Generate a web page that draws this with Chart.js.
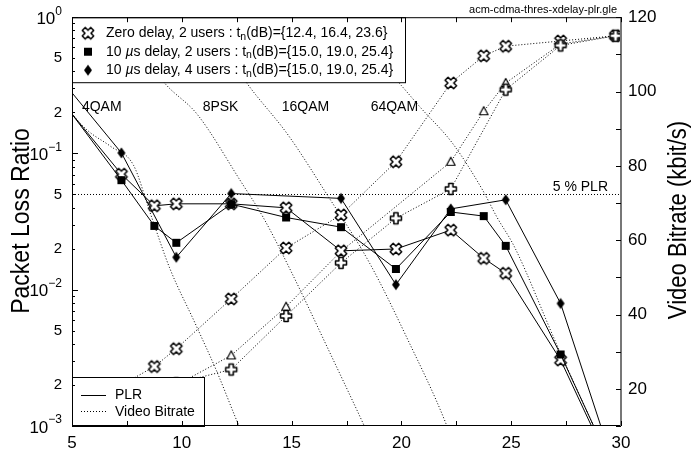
<!DOCTYPE html>
<html>
<head>
<meta charset="utf-8">
<script src="https://cdn.jsdelivr.net/npm/chart.js@4.4.0/dist/chart.umd.min.js"></script>
<style>
  html, body { margin: 0; padding: 0; background: #fff; }
</style>
</head>
<body>
<canvas id="chart" width="700" height="450"></canvas>
<script>
const FONT = '"Liberation Sans", Arial, Helvetica, sans-serif';

// PLR curves (left axis, log)
const snrZero = [4.75, 7.25, 8.75, 9.75, 12.25, 14.75, 17.25, 19.75, 22.25, 23.75, 24.75, 27.25, 29.75];
const plrZero2 = [0.218, 0.0705, 0.0413, 0.0427, 0.0427, 0.0399, 0.0193, 0.0199, 0.0274, 0.0170, 0.0132, 0.00305, 0.00042];
const plr10us2 = [0.220, 0.0637, 0.0294, 0.0221, 0.0425, 0.0339, 0.0288, 0.0142, 0.0372, 0.0347, 0.0210, 0.00335, 0.00045];
const snr4u = [4.75, 7.25, 9.75, 12.25, 17.25, 19.75, 22.25, 24.75, 27.25, 29.75];
const plr10us4 = [0.312, 0.101, 0.0173, 0.0508, 0.0468, 0.0109, 0.0392, 0.0457, 0.00793, 0.00047];

// video bitrate (right axis, kbit/s)
const snrRateZero = [7.25, 8.75, 9.75, 12.25, 14.75, 17.25, 19.75, 22.25, 23.75, 24.75, 27.25, 29.75];
const rateZero = [21, 26, 30.8, 44.2, 57.9, 66.8, 81.1, 102.3, 109.6, 112.2, 113.6, 115];
const snrRateTri = [9.75, 12.25, 14.75, 17.25, 22.25, 23.75, 24.75, 27.25, 29.75];
const rateTri = [21, 29.0, 42.1, 57.0, 81.1, 94.7, 102.3, 112.8, 115];
const snrRatePlus = [9.75, 12.25, 14.75, 17.25, 19.75, 22.25, 24.75, 27.25, 29.75];
const ratePlus = [21.5, 25.2, 39.6, 53.9, 65.9, 73.8, 100.5, 112.4, 115];

// modulation threshold curves
const qam4Snr = [4.45, 5.7, 6.75, 7.8, 8.55, 9.45, 10.6, 11.6, 12.55, 13.1];
const qam4Plr = [0.246, 0.148, 0.113, 0.082, 0.037, 0.0144, 0.0057, 0.0025, 0.00105, 0.00066];
const psk8Snr = [8.1, 9.25, 10.7, 12.65, 13.7, 14.95, 16.75, 18.25, 18.8];
const psk8Plr = [0.573, 0.324, 0.194, 0.0637, 0.0341, 0.0139, 0.00343, 0.00105, 0.00067];
const qam16Snr = [11.95, 13.0, 14.85, 16.6, 18.55, 20.3, 22.0, 22.45];
const qam16Plr = [0.573, 0.322, 0.136, 0.0503, 0.0157, 0.00427, 0.00107, 0.00067];
const qam64Snr = [19.0, 20.0, 20.85, 22.35, 23.7, 24.35, 25.15, 27.05, 28.75, 29.3];
const qam64Plr = [0.484, 0.315, 0.219, 0.1175, 0.0538, 0.0341, 0.0206, 0.00404, 0.001, 0.00064];

const plrLimit = 0.05;
const modLabels = ['4QAM', '8PSK', '16QAM', '64QAM'];
const modLabelSnr = [5.45, 10.95, 14.55, 18.6];
const leftTicks = [1, 0.5, 0.2, 0.1, 0.05, 0.02, 0.01, 0.005, 0.002, 0.001];

function pts(xs, ys) { return xs.map((v, i) => ({ x: v, y: ys[i] })); }

function makeMarker(kind) {
  const c = document.createElement('canvas');
  c.width = 16; c.height = 16;
  const g = c.getContext('2d');
  g.translate(8, 8);
  g.strokeStyle = '#000';
  g.lineWidth = 1.5;
  g.lineJoin = 'round';
  if (kind === 'cross' || kind === 'plus') {
    if (kind === 'cross') g.rotate(Math.PI / 4);
    const L = kind === 'cross' ? 6.0 : 5.5, w = 2.1;
    g.beginPath();
    g.moveTo(-w, -L); g.lineTo(w, -L); g.lineTo(w, -w); g.lineTo(L, -w);
    g.lineTo(L, w); g.lineTo(w, w); g.lineTo(w, L); g.lineTo(-w, L);
    g.lineTo(-w, w); g.lineTo(-L, w); g.lineTo(-L, -w); g.lineTo(-w, -w);
    g.closePath();
    g.fillStyle = '#fff'; g.fill(); g.stroke();
  } else if (kind === 'tri') {
    g.lineWidth = 1.2;
    g.beginPath();
    g.moveTo(0, -4.5); g.lineTo(4.3, 3.5); g.lineTo(-4.3, 3.5); g.closePath();
    g.fillStyle = '#fff'; g.fill(); g.stroke();
  } else if (kind === 'square') {
    g.fillStyle = '#000'; g.fillRect(-4, -4, 8, 8);
  } else if (kind === 'diamond') {
    g.beginPath();
    g.moveTo(0, -5.5); g.lineTo(4, 0); g.lineTo(0, 5.5); g.lineTo(-4, 0); g.closePath();
    g.fillStyle = '#000'; g.fill();
  }
  return c;
}
const mk = {
  cross: makeMarker('cross'), plus: makeMarker('plus'), tri: makeMarker('tri'),
  square: makeMarker('square'), diamond: makeMarker('diamond')
};

const visible = c => (c.raw && c.raw.x >= 5 && c.raw.y >= 0.001) ? 6 : 0;

function solid(data, marker) {
  return { data, yAxisID: 'y', showLine: true, borderColor: '#000', borderWidth: 1,
    pointStyle: marker, pointRadius: visible, pointHoverRadius: visible, tension: 0 };
}
function dotted(data, marker, axis) {
  return { data, yAxisID: axis, showLine: true, borderColor: '#000', borderWidth: 1,
    borderDash: [1, 2], pointStyle: marker || false, pointRadius: marker ? visible : 0,
    tension: 0 };
}
function curve(data) {
  const d = dotted(data, null, 'y');
  d.cubicInterpolationMode = 'monotone';
  return d;
}

function drawRich(ctx, parts, x, y, size) {
  let cx = x;
  parts.forEach(p => {
    const s = p.sub ? size * 0.75 : size;
    ctx.font = (p.it ? 'italic ' : '') + s + 'px ' + FONT;
    ctx.fillText(p.t, cx, y + (p.sub ? 3.5 : 0));
    cx += ctx.measureText(p.t).width;
  });
}

const decor = {
  id: 'decor',
  afterDatasetsDraw(chart) {
    const { ctx, chartArea: a, scales } = chart;
    const xs = scales.x, ys = scales.y, y2 = scales.y2;
    ctx.save();
    ctx.fillStyle = '#000';
    ctx.strokeStyle = '#000';

    // modulation labels and 5% label
    ctx.font = '14px ' + FONT;
    ctx.textBaseline = 'middle';
    ctx.textAlign = 'left';
    modLabels.forEach((t, i) => ctx.fillText(t, xs.getPixelForValue(modLabelSnr[i]), 107));
    ctx.textAlign = 'right';
    ctx.fillText('5 % PLR', a.right - 13, ys.getPixelForValue(plrLimit) - 7);

    // file name
    ctx.font = '11px ' + FONT;
    ctx.fillText('acm-cdma-thres-xdelay-plr.gle', a.right - 4, 10);

    // upper legend
    ctx.fillStyle = '#fff';
    ctx.fillRect(a.left, a.top, 333, 65);
    ctx.lineWidth = 1;
    ctx.strokeRect(a.left + 0.5, a.top + 0.5, 333, 65);
    const rows = [
      [mk.cross, [{ t: 'Zero delay, 2 users : t' }, { t: 'n', sub: true }, { t: '(dB)={12.4, 16.4, 23.6}' }]],
      [mk.square, [{ t: '10 ' }, { t: '\u00b5', it: true }, { t: 's delay, 2 users : t' }, { t: 'n', sub: true }, { t: '(dB)={15.0, 19.0, 25.4}' }]],
      [mk.diamond, [{ t: '10 ' }, { t: '\u00b5', it: true }, { t: 's delay, 4 users : t' }, { t: 'n', sub: true }, { t: '(dB)={15.0, 19.0, 25.4}' }]]
    ];
    ctx.textAlign = 'left';
    ctx.fillStyle = '#000';
    rows.forEach((r, i) => {
      const yy = a.top + 16 + i * 18.5;
      ctx.drawImage(r[0], a.left + 8, yy - 8);
      drawRich(ctx, r[1], a.left + 34, yy, 14);
    });

    // lower legend
    const lx = a.left, ly = a.bottom - 49;
    ctx.fillStyle = '#fff';
    ctx.fillRect(lx, ly, 132, 49);
    ctx.strokeRect(lx + 0.5, ly + 0.5, 132, 49);
    ctx.beginPath();
    ctx.moveTo(lx + 9, ly + 18.5); ctx.lineTo(lx + 34, ly + 18.5);
    ctx.stroke();
    ctx.setLineDash([1, 2]);
    ctx.beginPath();
    ctx.moveTo(lx + 9, ly + 34.5); ctx.lineTo(lx + 34, ly + 34.5);
    ctx.stroke();
    ctx.setLineDash([]);
    ctx.fillStyle = '#000';
    ctx.font = '14px ' + FONT;
    ctx.fillText('PLR', lx + 43, ly + 18);
    ctx.fillText('Video Bitrate', lx + 43, ly + 35);

    // frame
    ctx.strokeRect(a.left + 0.5, a.top + 0.5, a.width - 1, a.height - 1);
    ctx.strokeStyle = '#777';
    ctx.lineWidth = 2;
    ctx.beginPath();
    ctx.moveTo(a.right, a.top); ctx.lineTo(a.right, a.bottom);
    ctx.stroke();

    // inward ticks
    ctx.strokeStyle = '#000';
    ctx.lineWidth = 1;
    ctx.beginPath();
    for (let v = 5; v <= 30; v += 2.5) {
      const px = Math.round(xs.getPixelForValue(v)) + 0.5;
      ctx.moveTo(px, a.bottom); ctx.lineTo(px, a.bottom - 5);
      ctx.moveTo(px, a.top); ctx.lineTo(px, a.top + 5);
    }
    for (let e = -3; e < 0; e++) {
      for (let m = 1; m <= 10; m++) {
        const py = Math.round(ys.getPixelForValue(m * Math.pow(10, e))) + 0.5;
        const len = (m === 1 || m === 10) ? 6 : 3;
        ctx.moveTo(a.left, py); ctx.lineTo(a.left + len, py);
      }
    }
    for (let v = 10; v <= 120; v += 10) {
      const py = Math.round(y2.getPixelForValue(v)) + 0.5;
      ctx.moveTo(a.right, py); ctx.lineTo(a.right - 5, py);
    }
    ctx.stroke();

    // left tick labels
    ctx.fillStyle = '#000';
    ctx.textAlign = 'right';
    ctx.textBaseline = 'middle';
    leftTicks.forEach(v => {
      const py = ys.getPixelForValue(v);
      const e = Math.round(Math.log10(v));
      if (Math.abs(Math.pow(10, e) - v) < 1e-9) {
        const sup = String(e).replace('-', '\u2212');
        ctx.font = '12px ' + FONT;
        const sw = ctx.measureText(sup).width;
        ctx.fillText(sup, 62, py - 6);
        ctx.font = '17px ' + FONT;
        ctx.fillText('10', 62 - sw, py + 2);
      } else {
        ctx.font = '15px ' + FONT;
        ctx.fillText(String(Math.round(v / Math.pow(10, Math.floor(Math.log10(v))))), 62, py);
      }
    });

    // axis titles
    ctx.textAlign = 'center';
    ctx.font = '24px ' + FONT;
    ctx.save();
    ctx.translate(22, 221);
    ctx.rotate(-Math.PI / 2);
    ctx.scale(0.96, 1.05);
    ctx.fillText('Packet Loss Ratio', 0, 0);
    ctx.restore();
    ctx.save();
    ctx.translate(679, 220);
    ctx.rotate(-Math.PI / 2);
    ctx.scale(0.92, 1.05);
    ctx.fillText('Video Bitrate (kbit/s)', 0, 0);
    ctx.restore();

    ctx.restore();
  }
};

new Chart(document.getElementById('chart'), {
  type: 'scatter',
  data: {
    datasets: [
      solid(pts(snr4u, plr10us4), mk.diamond),
      solid(pts(snrZero, plr10us2), mk.square),
      solid(pts(snrZero, plrZero2), mk.cross),
      dotted(pts(snrRatePlus, ratePlus), mk.plus, 'y2'),
      dotted(pts(snrRateTri, rateTri), mk.tri, 'y2'),
      dotted(pts(snrRateZero, rateZero), mk.cross, 'y2'),
      curve(pts(qam4Snr, qam4Plr)),
      curve(pts(psk8Snr, psk8Plr)),
      curve(pts(qam16Snr, qam16Plr)),
      curve(pts(qam64Snr, qam64Plr)),
      dotted(pts([5, 30], [plrLimit, plrLimit]), null, 'y')
    ]
  },
  options: {
    responsive: false,
    devicePixelRatio: 1,
    animation: false,
    layout: { padding: { top: 17, left: 0, right: 0, bottom: 0 } },
    plugins: { legend: { display: false }, tooltip: { enabled: false } },
    scales: {
      x: {
        type: 'linear', position: 'bottom', min: 5, max: 30,
        grid: { display: false, drawTicks: false }, border: { display: false },
        ticks: { stepSize: 5, color: '#000', font: { family: FONT, size: 17 }, padding: 7, maxRotation: 0 },
        afterFit(s) { s.height = 24; }
      },
      y: {
        type: 'logarithmic', position: 'left', min: 0.001, max: 1,
        grid: { display: false, drawTicks: false }, border: { display: false },
        ticks: { display: false },
        afterFit(s) { s.width = 72; }
      },
      y2: {
        type: 'linear', position: 'right', min: 10, max: 120,
        grid: { display: false, drawTicks: false }, border: { display: false },
        ticks: { stepSize: 10, color: '#000', font: { family: FONT, size: 17 }, padding: 7,
          callback: v => (v % 20 === 0 ? String(v) : '') },
        afterFit(s) { s.width = 79; }
      }
    }
  },
  plugins: [decor]
});
</script>
</body>
</html>
